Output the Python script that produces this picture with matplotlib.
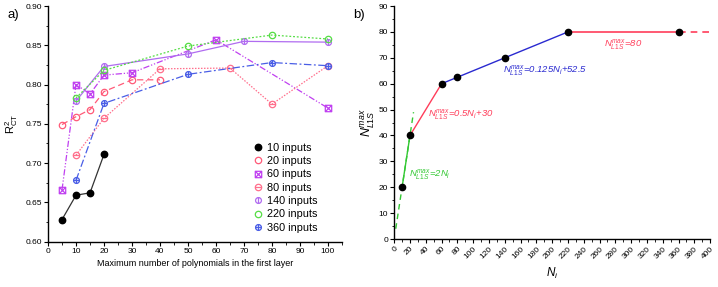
import numpy as np
import matplotlib
matplotlib.use("Agg")
import matplotlib.pyplot as plt
from matplotlib.path import Path
from matplotlib.ticker import MultipleLocator

plt.rcParams['font.family'] = ['Liberation Sans', 'DejaVu Sans']
plt.rcParams['mathtext.fontset'] = 'custom'
plt.rcParams['mathtext.rm'] = 'Liberation Sans'
plt.rcParams['mathtext.it'] = 'Liberation Sans:italic'
plt.rcParams['mathtext.bf'] = 'Liberation Sans:bold'

# ---------------- data: panel a ----------------
x10 = [5, 10, 15, 20]
y10 = [0.628, 0.659, 0.662, 0.711]
x20 = [5, 10, 15, 20, 30, 40]
y20 = [0.749, 0.759, 0.768, 0.791, 0.806, 0.806]
x60 = [5, 10, 15, 20, 30, 60, 100]
y60 = [0.666, 0.800, 0.788, 0.812, 0.815, 0.857, 0.770]
x80 = [10, 20, 40, 65, 80, 100]
y80 = [0.710, 0.757, 0.820, 0.821, 0.775, 0.824]
x140 = [10, 20, 50, 70, 100]
y140 = [0.779, 0.823, 0.839, 0.855, 0.854]
x220 = [10, 20, 50, 80, 100]
y220 = [0.783, 0.818, 0.849, 0.863, 0.858]
x360 = [10, 20, 50, 80, 100]
y360 = [0.678, 0.776, 0.813, 0.828, 0.824]
labels_a = ['10 inputs', '20 inputs', '60 inputs', '80 inputs',
            '140 inputs', '220 inputs', '360 inputs']

# ---------------- data: panel b ----------------
Ni = [10, 20, 60, 80, 140, 220, 360]
Nmax = [20, 40, 60, 62.5, 70, 80, 80]
green_ext_x = [2, 24.5]
green_ext_y = [4, 49]
red_ext_x = [360, 400]
red_ext_y = [80, 80]

# ---------------- custom markers ----------------
circ = Path.unit_circle()
hline = Path([[-1, 0], [1, 0]], [Path.MOVETO, Path.LINETO])
vline = Path([[0, -1], [0, 1]], [Path.MOVETO, Path.LINETO])
sq = Path([[-1, -1], [1, -1], [1, 1], [-1, 1], [-1, -1]],
          [Path.MOVETO, Path.LINETO, Path.LINETO, Path.LINETO, Path.CLOSEPOLY])
diag = Path([[-1, -1], [1, 1], [-1, 1], [1, -1]],
            [Path.MOVETO, Path.LINETO, Path.MOVETO, Path.LINETO])
m_sqx = Path.make_compound_path(sq, diag)
m_cminus = Path.make_compound_path(circ, hline)
m_cvert = Path.make_compound_path(circ, vline)
m_cplus = Path.make_compound_path(circ, hline, vline)

fig = plt.figure(figsize=(7.18, 2.87), dpi=100)
axa = fig.add_axes([0.0669, 0.1585, 0.4093, 0.8205])
axb = fig.add_axes([0.549, 0.167, 0.440, 0.812])

c10, c20, c60, c80, c140, c220, c360 = ('black', '#ff5a78', '#c040f0', '#ff6f8c',
                                        '#b06cf0', '#55dd44', '#4a5ee6')
lw = 0.9
ms = 4.6
axa.plot(x10, y10, '-', color='#333333', lw=lw, marker='o', ms=ms,
         mfc='black', mec='black', label=labels_a[0])
axa.plot(x20, y20, color=c20, lw=lw, ls=(0, (5, 3)), marker='o', ms=ms,
         mfc='none', mec=c20, mew=0.9, label=labels_a[1])
axa.plot(x60, y60, color=c60, lw=lw, ls=(0, (5, 1.5, 1, 1.5, 1, 1.5)), marker=m_sqx, ms=ms,
         mfc='none', mec=c60, mew=0.9, label=labels_a[2])
axa.plot(x80, y80, color=c80, lw=lw, ls=(0, (1.2, 1.2)), marker=m_cminus, ms=ms,
         mfc='none', mec=c80, mew=0.9, label=labels_a[3])
axa.plot(x140, y140, '-', color=c140, lw=lw, marker=m_cvert, ms=ms - 0.4,
         mfc='none', mec=c140, mew=0.9, label=labels_a[4])
axa.plot(x220, y220, color=c220, lw=lw, ls=(0, (1.5, 1.5)), marker='o', ms=ms,
         mfc='none', mec=c220, mew=0.9, label=labels_a[5])
axa.plot(x360, y360, color=c360, lw=lw, ls=(0, (6, 2, 1.5, 2)), marker=m_cplus, ms=ms - 0.4,
         mfc='none', mec=c360, mew=0.9, label=labels_a[6])

axa.set_xlim(0, 105)
axa.set_ylim(0.60, 0.90)
axa.xaxis.set_major_locator(MultipleLocator(10))
axa.xaxis.set_minor_locator(MultipleLocator(5))
axa.yaxis.set_minor_locator(MultipleLocator(0.025))
axa.set_yticks(np.arange(0.60, 0.901, 0.05))
axa.set_yticklabels(['%.2f' % v for v in np.arange(0.60, 0.901, 0.05)])
axa.set_xlabel('Maximum number of polynomials in the first layer', fontsize=6.5, labelpad=3)
axa.set_ylabel(r'R$^2_{\rm CT}$', fontsize=8, labelpad=4)
leg = axa.legend(loc='upper left', bbox_to_anchor=(0.70, 0.42), frameon=False,
                 fontsize=7.8, handlelength=0.8, handletextpad=0.4,
                 labelspacing=0.31, borderaxespad=0.0, borderpad=0.0)
for h in leg.legend_handles:
    h.set_linestyle('none')
fig.text(0.011, 0.948, 'a)', fontsize=9.5, va='center', ha='left')
fig.text(0.492, 0.948, 'b)', fontsize=9.5, va='center', ha='left')

# ---------------- panel b ----------------
green = '#33c833'
red = '#ff3d5a'
blue = '#2a2ad0'
axb.plot(green_ext_x, green_ext_y, color=green, lw=1.0, ls=(0, (4, 3)))
axb.plot(Ni[0:2], Nmax[0:2], '-', color=green, lw=1.0)
axb.plot(Ni[1:3], Nmax[1:3], '-', color=red, lw=1.0)
axb.plot(Ni[2:6], Nmax[2:6], '-', color=blue, lw=1.0)
axb.plot(Ni[5:7], Nmax[5:7], '-', color=red, lw=1.2)
axb.plot(red_ext_x, red_ext_y, color=red, lw=1.2, ls=(0, (4, 3)))
axb.plot(Ni, Nmax, 'o', color='black', ms=4.5, zorder=5)

axb.set_xlim(0, 400)
axb.set_ylim(0, 90)
axb.xaxis.set_major_locator(MultipleLocator(20))
axb.xaxis.set_minor_locator(MultipleLocator(10))
axb.yaxis.set_major_locator(MultipleLocator(10))
axb.yaxis.set_minor_locator(MultipleLocator(5))
axb.set_xlabel(r'$N_i$', fontsize=8.5, labelpad=4)
axb.set_ylabel(r'$N^{max}_{L1S}$', fontsize=9, labelpad=1)

fs_ann = 6.8
axb.text(19, 24, r'$N^{max}_{L1S}$=2$N_i$', color=green, fontsize=fs_ann, style='italic')
axb.text(43, 47, r'$N^{max}_{L1S}$=0.5$N_i$+30', color=red, fontsize=fs_ann, style='italic')
axb.text(138, 64, r'$N^{max}_{L1S}$=0.125$N_i$+52.5', color=blue, fontsize=fs_ann, style='italic')
axb.text(266, 74, r'$N^{max}_{L1S}$=80', color=red, fontsize=fs_ann, style='italic')

for ax in (axa, axb):
    for s in ('top', 'right'):
        ax.spines[s].set_visible(False)
    ax.spines['left'].set_linewidth(1.0)
    ax.spines['bottom'].set_linewidth(1.0)
    ax.tick_params(which='major', length=3, width=0.8, labelsize=6, pad=1.5)
    ax.tick_params(which='minor', length=1.8, width=0.6)

for lab in axb.get_xticklabels():
    lab.set_rotation(45)
    lab.set_ha('right')
    lab.set_rotation_mode('anchor')

fig.savefig('out.png', dpi=100)
